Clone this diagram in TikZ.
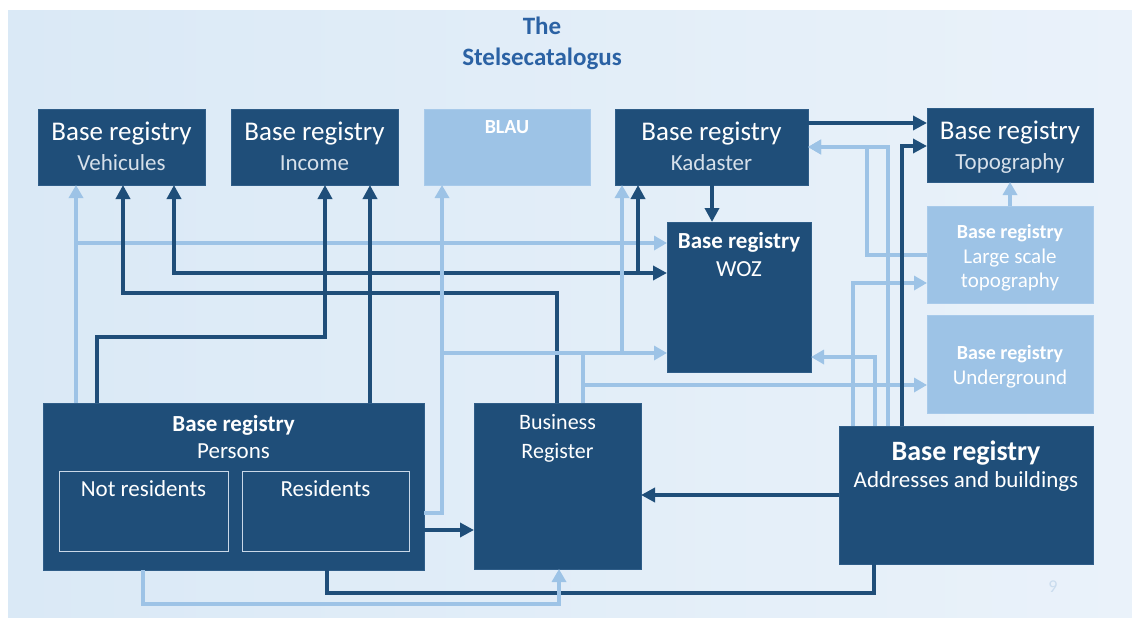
\documentclass[tikz,border=0pt]{standalone}
\usepackage{fontspec}
\setmainfont{Carlito}
\usetikzlibrary{arrows.meta}
\definecolor{dkblue}{HTML}{1F4E79}
\definecolor{boxedge}{HTML}{2F5D88}
\definecolor{ltblue}{HTML}{9DC3E6}
\definecolor{ltedge}{HTML}{A8CAEA}
\definecolor{bgA}{HTML}{DAE9F6}
\definecolor{bgB}{HTML}{EAF2FA}
\definecolor{subtxt}{HTML}{D6E0EA}
\definecolor{subline}{HTML}{C9D8E8}
\definecolor{titleblue}{HTML}{2B62A4}
\definecolor{pagenum}{HTML}{CADCEE}
\begin{document}
\begin{tikzpicture}[x=1pt,y=-1pt,
  dkbox/.style={fill=dkblue,draw=boxedge,line width=0.8pt,inner sep=0pt,outer sep=0pt},
  ltbox/.style={fill=ltblue,draw=ltedge,line width=0.8pt,inner sep=0pt,outer sep=0pt},
  subbox/.style={draw=subline,line width=0.9pt,inner sep=0pt,outer sep=0pt},
  txt/.style={inner sep=0pt,outer sep=0pt,align=center,text=white,anchor=north},
  dk/.style={draw=dkblue,line width=4pt,-{Triangle[length=14pt,width=14pt]}},
  dkplain/.style={draw=dkblue,line width=4pt},
  lt/.style={draw=ltblue,line width=4.6pt,-{Triangle[length=13pt,width=14pt]}},
]
\useasboundingbox (0,0) rectangle (1132,621);
\fill[white] (0,0) rectangle (1132,621);
\shade[left color=bgA,right color=bgB] (8,10) rectangle (1132,617);

% title
\node[anchor=north,align=center,inner sep=0pt,text=titleblue,font=\bfseries\fontsize{25}{31}\selectfont] (title) at (542,16.5) {The\\Stelsecatalogus};

% boxes
\node[dkbox,minimum width=167pt,minimum height=76pt] (veh) at (121.5,147) {};
\node[dkbox,minimum width=167pt,minimum height=76pt] (inc) at (314.5,147) {};
\node[ltbox,minimum width=166pt,minimum height=76pt] (blau) at (507,147) {};
\node[dkbox,minimum width=193pt,minimum height=76pt] (kad) at (711.5,147) {};
\node[dkbox,minimum width=166pt,minimum height=74pt] (topo) at (1010,145) {};
\node[dkbox,minimum width=144pt,minimum height=150pt] (woz) at (739,297) {};
\node[ltbox,minimum width=166pt,minimum height=97pt] (lst) at (1010,254.5) {};
\node[ltbox,minimum width=166pt,minimum height=98pt] (und) at (1010,364) {};
\node[dkbox,minimum width=381pt,minimum height=167pt] (pers) at (233.5,486.5) {};
\node[subbox,minimum width=169pt,minimum height=80pt] (nres) at (143.5,511) {};
\node[subbox,minimum width=167pt,minimum height=80pt] (res) at (325.5,511) {};
\node[dkbox,minimum width=167pt,minimum height=166pt] (bus) at (557.5,486) {};
\node[dkbox,minimum width=254pt,minimum height=138pt] (addr) at (966,495) {};

% light connectors (under the dark ones)
\draw[lt] (76,0 |- pers.north) -- (76,0 |- veh.south);
\draw[lt] (76,0 |- pers.north) -- (76,243) -- (woz.west |- 0,243);

% dark connectors
\draw[dk] (97,0 |- pers.north) -- (97,337) -- (325,337) -- (325,0 |- inc.south);
\draw[dk] (370,0 |- pers.north) -- (370,0 |- inc.south);
\draw[dk] (370,0 |- pers.north) -- (370,273) -- (174,273) -- (174,0 |- veh.south);
\draw[dk] (370,0 |- pers.north) -- (370,273) -- (woz.west |- 0,273);
\draw[dk] (370,0 |- pers.north) -- (370,273) -- (638,273) -- (638,0 |- kad.south);
\draw[dk] (557,0 |- bus.north) -- (557,293) -- (123,293) -- (123,0 |- veh.south);
\draw[dk] (kad.east |- 0,123) -- (topo.west |- 0,123);
\draw[dk] (712,0 |- kad.south) -- (712,0 |- woz.north);
\draw[dk] (addr.west |- 0,495) -- (bus.east |- 0,495);
\draw[dk] (pers.east |- 0,530) -- (bus.west |- 0,530);
\draw[dkplain] (327,0 |- pers.south) -- (327,593) -- (874,593) -- (874,0 |- addr.south);

% light connectors
\draw[lt] (pers.east |- 0,513) -- (442,513) -- (442,0 |- blau.south);
\draw[lt] (pers.east |- 0,513) -- (442,513) -- (442,353) -- (woz.west |- 0,353);
\draw[lt] (583,0 |- bus.north) -- (583,353) -- (622,353) -- (622,0 |- kad.south);
\draw[lt] (583,0 |- bus.north) -- (583,385) -- (und.west |- 0,385);
\draw[lt] (lst.west |- 0,255) -- (867,255) -- (867,147) -- (kad.east |- 0,147);
\draw[lt] (888,0 |- addr.north) -- (888,147) -- (kad.east |- 0,147);
\draw[lt] (853,0 |- addr.north) -- (853,283) -- (lst.west |- 0,283);
\draw[lt] (875,0 |- addr.north) -- (875,357) -- (woz.east |- 0,357);
\draw[lt] (1010,0 |- lst.north) -- (1010,0 |- topo.south);
\draw[lt] (143,0 |- pers.south) -- (143,604) -- (559,604) -- (559,0 |- bus.south);
\draw[dk] (902,0 |- addr.north) -- (902,146) -- (topo.west |- 0,146);

% texts
\node[txt,font=\fontsize{23}{30}\selectfont] (veh-t) at (121.5,122) {{\fontsize{27}{30}\selectfont Base registry}\\\textcolor{subtxt}{Vehicules}};
\node[txt,font=\fontsize{23}{30}\selectfont] (inc-t) at (314.5,122) {{\fontsize{27}{30}\selectfont Base registry}\\\textcolor{subtxt}{Income}};
\node[txt,font=\fontsize{23}{30}\selectfont] (kad-t) at (711.5,122) {{\fontsize{27}{30}\selectfont Base registry}\\\textcolor{subtxt}{Kadaster}};
\node[txt,font=\fontsize{23}{30}\selectfont] (topo-t) at (1010,121) {{\fontsize{27}{30}\selectfont Base registry}\\\textcolor{subtxt}{Topography}};
\node[txt,font=\bfseries\fontsize{20}{24}\selectfont] (blau-t) at (507,120.5) {BLAU};
\node[txt,font=\fontsize{23}{28}\selectfont] (woz-t) at (739,232) {{\bfseries Base registry}\\WOZ};
\node[txt,font=\fontsize{21}{24.5}\selectfont] (lst-t) at (1010,224.5) {{\bfseries\fontsize{20}{24.5}\selectfont Base registry}\\Large scale\\topography};
\node[txt,font=\fontsize{21}{24.5}\selectfont] (und-t) at (1010,345.5) {{\bfseries\fontsize{20}{24.5}\selectfont Base registry}\\Underground};
\node[txt,font=\fontsize{23}{27.5}\selectfont] (pers-t) at (233.5,415) {{\bfseries Base registry}\\Persons};
\node[txt,font=\fontsize{23}{27}\selectfont] (nres-t) at (143.5,481) {Not residents};
\node[txt,font=\fontsize{23}{27}\selectfont] (res-t) at (325.5,481) {Residents};
\node[txt,font=\fontsize{22}{28.4}\selectfont] (bus-t) at (557.5,414.5) {Business\\Register};
\node[txt,font=\fontsize{23}{27}\selectfont] (addr-t) at (966,441) {{\bfseries\fontsize{28}{27}\selectfont Base registry}\\Addresses and buildings};
\node[text=pagenum,inner sep=0pt,font=\fontsize{18}{20}\selectfont] (pnum) at (1053,587) {9};
\end{tikzpicture}
\end{document}
